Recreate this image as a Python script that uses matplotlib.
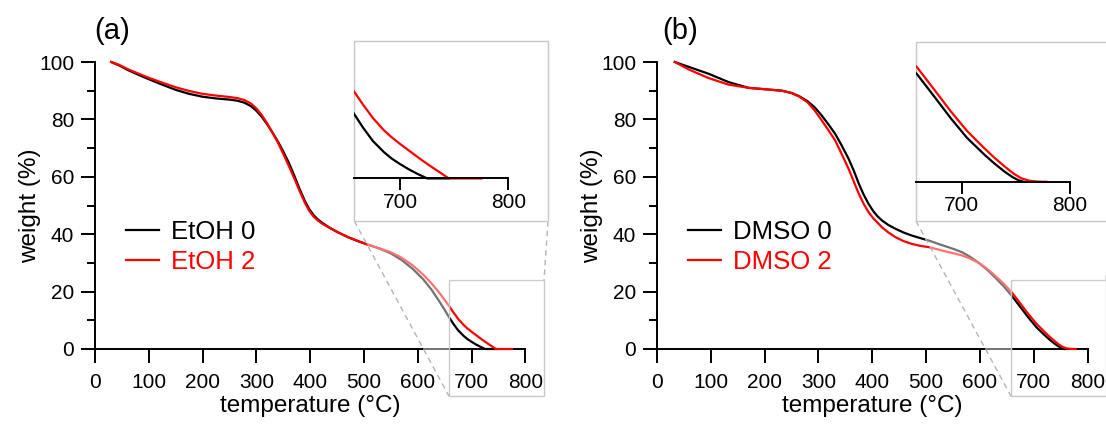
import matplotlib
matplotlib.use("Agg")
import matplotlib.pyplot as plt
from matplotlib.patches import Rectangle, Polygon
from matplotlib.lines import Line2D

plt.rcParams["font.family"] = ["Liberation Sans", "DejaVu Sans"]

# ---- data (temperature in °C, weight in %) ----
T_ETOH0 = [30, 45, 60, 80, 100, 125, 150, 175, 200, 225, 250, 265, 278, 290, 300, 310, 320,
           330, 340, 350, 360, 370, 380, 390, 398, 406, 414, 422, 435, 450, 470, 490, 510,
           530, 550, 570, 590, 610, 625, 640, 650, 658, 666, 675, 685, 692, 700, 708, 715,
           720, 725, 745]
W_ETOH0 = [100, 98.8, 97.3, 95.6, 94.0, 92.1, 90.3, 88.9, 87.9, 87.3, 86.9, 86.5, 85.8, 84.6,
           83.0, 80.9, 78.3, 75.4, 72.3, 68.8, 65.0, 60.6, 55.9, 51.6, 48.8, 46.7, 45.2, 44.0,
           42.4, 40.8, 39.0, 37.5, 36.2, 34.9, 33.3, 31.0, 28.0, 24.3, 20.8, 16.6, 13.6, 11.1,
           8.8, 6.5, 4.6, 3.5, 2.5, 1.6, 0.9, 0.45, 0.0, 0.0]

T_ETOH2 = [30, 45, 60, 80, 100, 125, 150, 175, 200, 225, 250, 265, 278, 290, 300, 310, 320,
           330, 340, 350, 360, 370, 380, 390, 398, 406, 414, 422, 435, 450, 470, 490, 510,
           530, 550, 570, 590, 610, 625, 640, 650, 658, 666, 675, 685, 692, 700, 710, 720,
           730, 738, 745, 760, 775]
W_ETOH2 = [100, 99.0, 97.6, 96.0, 94.5, 92.8, 91.2, 89.9, 88.9, 88.3, 87.8, 87.4, 86.7, 85.5,
           83.8, 81.5, 78.6, 75.3, 71.9, 68.0, 63.9, 59.6, 55.2, 51.0, 48.2, 46.2, 44.8, 43.7,
           42.3, 40.8, 39.0, 37.5, 36.2, 35.0, 33.7, 31.8, 29.2, 25.9, 23.0, 19.6, 17.1, 15.0,
           12.8, 10.5, 8.4, 7.2, 6.0, 4.6, 3.2, 1.9, 0.9, 0.0, 0.0, 0.0]

T_DMSO0 = [33, 59, 96, 133, 170, 201, 232, 250, 265, 280, 293, 306, 318, 331, 343, 356, 366,
           375, 384, 393, 402, 410, 418, 430, 443, 458, 474, 490, 505, 520, 536, 552, 567,
           582, 598, 613, 628, 644, 659, 675, 690, 705, 721, 730, 740, 747, 752, 757]
W_DMSO0 = [100, 98.3, 95.9, 93.0, 91.0, 90.5, 90.0, 89.2, 88.0, 86.3, 84.2, 81.4, 78.4, 75.0,
           71.0, 66.3, 62.0, 57.6, 53.8, 50.6, 48.0, 46.2, 44.8, 43.2, 41.9, 40.6, 39.5, 38.6,
           37.8, 36.8, 35.8, 34.8, 33.7, 32.1, 30.0, 27.7, 25.0, 21.9, 18.6, 14.7, 11.0, 7.6,
           4.7, 3.2, 1.7, 0.8, 0.3, 0.0]

T_DMSO2 = [33, 59, 96, 133, 170, 201, 232, 250, 265, 280, 293, 306, 318, 331, 343, 356, 366,
           375, 384, 393, 402, 410, 418, 430, 443, 458, 474, 490, 505, 520, 536, 552, 567,
           582, 598, 613, 628, 644, 659, 675, 690, 705, 721, 730, 740, 748, 755, 762, 770, 778]
W_DMSO2 = [100, 97.4, 94.4, 92.1, 91.0, 90.5, 90.0, 89.2, 87.9, 85.9, 83.1, 79.7, 76.4, 72.7,
           68.0, 62.8, 58.2, 54.1, 50.6, 47.7, 45.5, 44.0, 42.4, 40.6, 39.0, 37.6, 36.6, 35.9,
           35.5, 34.8, 34.0, 33.3, 32.6, 31.5, 30.0, 28.0, 25.6, 22.8, 19.8, 15.9, 12.2, 8.8,
           5.8, 4.2, 2.6, 1.4, 0.6, 0.2, 0.03, 0.0]

ZOOM_X = (657.8, 834.6)
ZOOM_Y = (-16.4, 24.0)

W_PX, H_PX = 1106, 425
fig = plt.figure(figsize=(W_PX / 100, H_PX / 100), dpi=100)
fig.patch.set_facecolor("white")


def px_box(x0, y0, x1, y1):
    """pixel box (top-left origin) -> figure fraction rect"""
    return [x0 / W_PX, 1 - y1 / H_PX, (x1 - x0) / W_PX, (y1 - y0) / H_PX]


def draw_panel(ax_box, ins_box, ins_ylim, series, tag, tag_x):
    ax = fig.add_axes(ax_box)
    for t, w, c, lab in series:
        ax.plot(t, w, color=c, lw=1.6, label=lab, clip_on=False, zorder=3)
    ax.set_xlim(0, 800)
    ax.set_ylim(0, 100)
    for s in ("top", "right"):
        ax.spines[s].set_visible(False)
    for s in ("left", "bottom"):
        ax.spines[s].set_linewidth(1.4)
    ax.set_xticks(range(0, 801, 100))
    ax.set_yticks(range(0, 101, 20))
    ax.set_yticks(range(10, 100, 20), minor=True)
    ax.tick_params(axis="both", which="major", direction="out", length=10, width=1.4,
                   labelsize=15)
    ax.tick_params(axis="x", pad=7.5)
    ax.tick_params(axis="y", pad=5)
    ax.tick_params(axis="y", which="minor", direction="out", length=5.5, width=1.4)
    ax.set_xlabel("temperature (°C)", fontsize=17.5)
    ax.set_ylabel("weight (%)", fontsize=17.5)
    ax.xaxis.set_label_coords(0.5, -0.16)
    ax.yaxis.set_label_coords(-0.125, 0.5)
    ax.legend(loc="upper left", bbox_to_anchor=(0.072, 0.45), frameon=False, fontsize=18.5,
              handlelength=1.3, handletextpad=0.45, labelspacing=0.22, borderpad=0,
              borderaxespad=0, labelcolor="linecolor")
    fig.text(tag_x / W_PX, 1 - 31 / H_PX, tag, fontsize=21, ha="center", va="center")

    # zoom rectangle on the main plot
    ax.add_patch(Rectangle((ZOOM_X[0], ZOOM_Y[0]), ZOOM_X[1] - ZOOM_X[0], ZOOM_Y[1] - ZOOM_Y[0],
                           fill=False, ec="#c8c8c8", lw=1, clip_on=False, zorder=4))

    # inset
    ins = fig.add_axes(ins_box)
    ins.set_zorder(3)
    for t, w, c, lab in series:
        ins.plot(t, w, color=c, lw=1.6, clip_on=True)
    ins.set_xlim(657.8, 836.6)
    ins.set_ylim(*ins_ylim)
    for s in ("top", "right", "left"):
        ins.spines[s].set_visible(False)
    ins.spines["bottom"].set_position(("data", 0))
    ins.spines["bottom"].set_bounds(657.8, 800)
    ins.spines["bottom"].set_linewidth(1.4)
    ins.set_xticks([700, 800])
    ins.set_yticks([])
    ins.tick_params(axis="x", direction="out", length=8.5, width=1.4, labelsize=15, pad=2)
    ins.add_patch(Rectangle((0, 0), 1, 1, transform=ins.transAxes, fill=False,
                            ec="#c8c8c8", lw=1, clip_on=False))

    # connectors + faded cone
    inv = fig.transFigure.inverted()
    ill = inv.transform(ins.transAxes.transform((0, 0)))
    ilr = inv.transform(ins.transAxes.transform((1, 0)))
    rll = inv.transform(ax.transData.transform((ZOOM_X[0], ZOOM_Y[0])))
    rul = inv.transform(ax.transData.transform((ZOOM_X[0], ZOOM_Y[1])))
    rur = inv.transform(ax.transData.transform((ZOOM_X[1], ZOOM_Y[1])))
    fig.add_artist(Polygon([ill, ilr, rur, rul, rll], closed=True, transform=fig.transFigure,
                           fc="white", ec="none", alpha=0.45, zorder=1))
    for p, q in ((ill, rll), (ilr, rur)):
        fig.add_artist(Line2D([p[0], q[0]], [p[1], q[1]], transform=fig.transFigure,
                              color="#b4b4b4", lw=1, ls=(0, (4, 3)), zorder=2))
    return ax


draw_panel(px_box(95, 62, 525.4, 349), px_box(354.3, 41, 548, 221), (-7.4, 23.9),
           [(T_ETOH0, W_ETOH0, "black", "EtOH 0"), (T_ETOH2, W_ETOH2, "red", "EtOH 2")],
           "(a)", 112)
draw_panel(px_box(657, 62, 1087.5, 349), px_box(916, 41.7, 1109.7, 221), (-6.8, 24.3),
           [(T_DMSO0, W_DMSO0, "black", "DMSO 0"), (T_DMSO2, W_DMSO2, "red", "DMSO 2")],
           "(b)", 680)

fig.savefig("out.png", dpi=100)
